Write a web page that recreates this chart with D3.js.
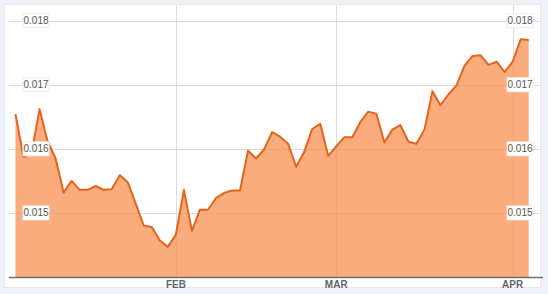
<!DOCTYPE html>
<html>
<head>
<meta charset="utf-8">
<script src="https://cdn.jsdelivr.net/npm/d3@7"></script>
<style>
  body { margin: 0; background: #eef2f8; }
  svg { display: block; font-family: "Liberation Sans", Arial, sans-serif; }
</style>
</head>
<body>
<svg class="chart"></svg>
<script>
// DATA /////////////////////////////////
// one value per trading day, Jan 3 .. Apr 4
const values = [
  0.01654, 0.01587, 0.01593, 0.01662, 0.01612, 0.01585, 0.01532, 0.01550,
  0.01536, 0.01536, 0.01542, 0.01536, 0.01537, 0.01559, 0.01548, 0.01514,
  0.01480, 0.01478, 0.01457, 0.01447, 0.01466, 0.01536, 0.01472, 0.01505,
  0.01505, 0.01523, 0.01531, 0.01535, 0.01535, 0.01597, 0.01585, 0.01599,
  0.01626, 0.01619, 0.01608, 0.01572, 0.01595, 0.01631, 0.01639, 0.01589,
  0.01604, 0.01618, 0.01618, 0.01642, 0.01658, 0.01655, 0.01610, 0.01630,
  0.01637, 0.01611, 0.01608, 0.01630, 0.01690, 0.01668, 0.01685, 0.01699,
  0.01730, 0.01745, 0.01746, 0.01731, 0.01736, 0.01720, 0.01736, 0.01771,
  0.01770
];
const monthTicks = [20, 40, 62];
const monthLabels = ["FEB", "MAR", "APR"];
const yTicks = [0.015, 0.016, 0.017, 0.018];

// DEFINITIONS /////////////////////////////////
const width = 548;
const height = 294;
const plot = { left: 15.5, right: 528.7, top: 5, bottom: 277 };

const svg = d3.select(".chart").attr("width", width).attr("height", height);

const x = d3.scaleLinear().domain([0, values.length - 1]).range([plot.left, plot.right]);
const y = d3.scaleLinear().domain([0.014, 0.018]).range([plot.bottom, 20.7]);

// panel
svg.append("rect")
  .attr("x", 4.5).attr("y", 4.5)
  .attr("width", 536).attr("height", 283)
  .attr("fill", "#fff")
  .attr("stroke", "#e3e8f1");

// grid
svg.append("g")
  .selectAll("line")
  .data(yTicks)
  .join("line")
  .attr("x1", 9).attr("x2", 540)
  .attr("y1", (d) => Math.round(y(d)) + 0.5)
  .attr("y2", (d) => Math.round(y(d)) + 0.5)
  .attr("stroke", "#dcdcdc");

svg.append("g")
  .selectAll("line")
  .data(monthTicks)
  .join("line")
  .attr("x1", (d) => Math.round(x(d)) + 0.5)
  .attr("x2", (d) => Math.round(x(d)) + 0.5)
  .attr("y1", plot.top).attr("y2", plot.bottom)
  .attr("stroke", "#dcdcdc");

// area + line
const area = d3.area()
  .x((d, i) => x(i))
  .y0(plot.bottom)
  .y1((d) => y(d));

const line = d3.line()
  .x((d, i) => x(i))
  .y((d) => y(d));

svg.append("path")
  .datum(values)
  .attr("d", area)
  .attr("fill", "#fa8c4b")
  .attr("fill-opacity", 0.72);

svg.append("path")
  .datum(values)
  .attr("d", line)
  .attr("fill", "none")
  .attr("stroke", "#e4641c")
  .attr("stroke-width", 2)
  .attr("stroke-linejoin", "round");

// baseline
svg.append("line")
  .attr("x1", 9).attr("x2", 543)
  .attr("y1", plot.bottom + 0.5).attr("y2", plot.bottom + 0.5)
  .attr("stroke", "#707070")
  .attr("stroke-width", 1.5);

// y labels, both sides
const yLabel = (xPos) => {
  const g = svg.append("g")
    .selectAll("g")
    .data(yTicks)
    .join("g")
    .attr("transform", (d) => `translate(${xPos}, ${y(d)})`);
  g.append("rect")
    .attr("x", -2).attr("y", -7)
    .attr("width", 26).attr("height", 14)
    .attr("fill", "#fff")
    .attr("stroke", "#eeeeee");
  g.append("text")
    .attr("x", 11)
    .attr("dy", "0.35em")
    .attr("text-anchor", "middle")
    .attr("font-size", 10)
    .attr("fill", "#555")
    .text((d) => d3.format(".3f")(d));
};
yLabel(25);
yLabel(509);

// x labels
svg.append("g")
  .selectAll("text")
  .data(monthTicks)
  .join("text")
  .attr("x", (d) => x(d))
  .attr("y", 288)
  .attr("text-anchor", "middle")
  .attr("font-size", 10)
  .attr("font-weight", "bold")
  .attr("fill", "#666")
  .text((d, i) => monthLabels[i]);
</script>
</body>
</html>
